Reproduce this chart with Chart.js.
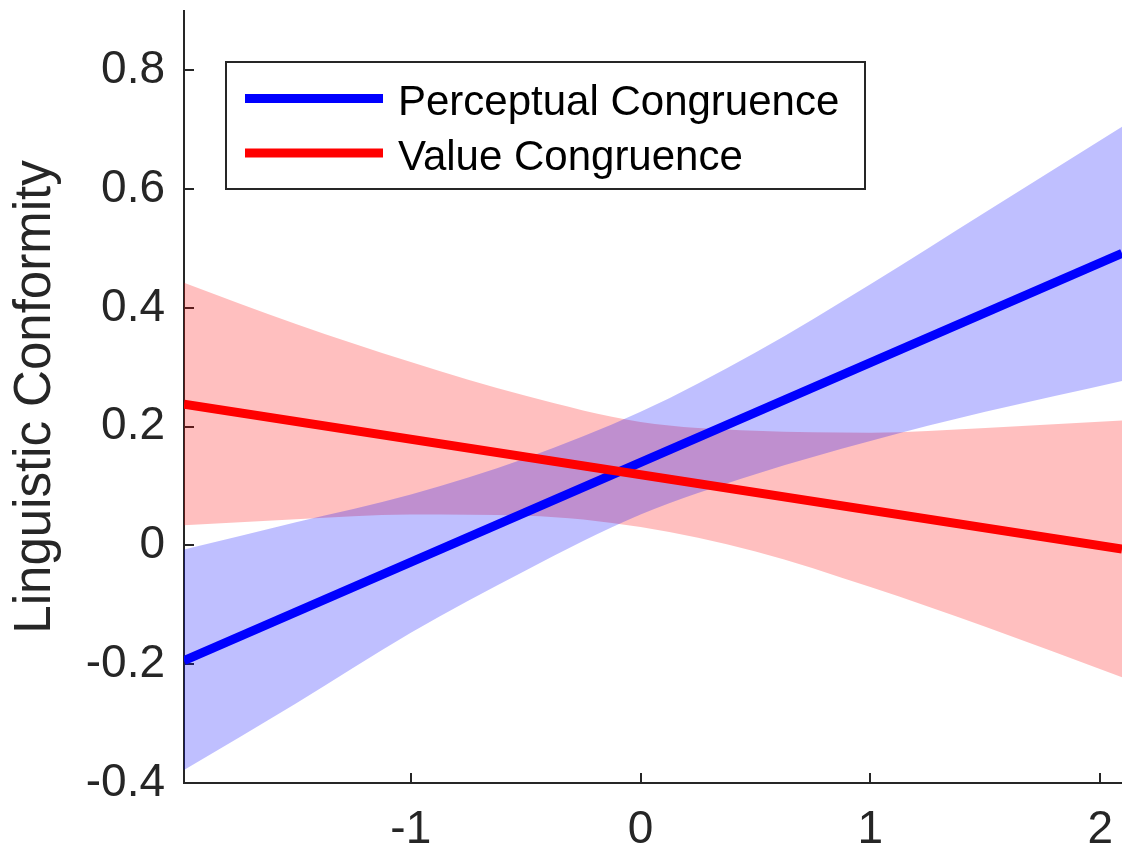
<!DOCTYPE html>
<html>
<head>
<meta charset="utf-8">
<script src="https://cdn.jsdelivr.net/npm/chart.js@4.4.1/dist/chart.umd.min.js"></script>
<style>
html,body{margin:0;padding:0;background:#ffffff;}
#wrap{width:1122px;height:854px;position:relative;}
canvas{display:block;}
</style>
</head>
<body>
<div id="wrap"><canvas id="c" width="1122" height="854"></canvas></div>
<script>
// ---- data ----
const bandX = [-1.987, -1.5, -1.0, -0.5, 0, 0.5, 1.0, 1.5, 2.095];
const perceptualUpper = [-0.007, 0.039, 0.086, 0.147, 0.225, 0.325, 0.440, 0.561, 0.705];
const perceptualLower = [-0.378, -0.266, -0.147, -0.042, 0.052, 0.120, 0.176, 0.225, 0.277];
const valueUpper = [0.4425, 0.373, 0.309, 0.252, 0.208, 0.193, 0.190, 0.198, 0.2105];
const valueLower = [0.034, 0.044, 0.052, 0.050, 0.031, -0.010, -0.070, -0.137, -0.222];
const fitX = [-1.987, 2.095];
const perceptualFit = [-0.194, 0.492];
const valueFit = [0.238, -0.006];
const seriesNames = ['Perceptual Congruence', 'Value Congruence'];
const xTicks = [-1, 0, 1, 2];
const xTickLabels = ['-1', '0', '1', '2'];
const yTicks = [-0.4, -0.2, 0, 0.2, 0.4, 0.6, 0.8];
const yTickLabels = ['-0.4', '-0.2', '0', '0.2', '0.4', '0.6', '0.8'];
const xMin = -1.987, xMax = 2.095;
const yMin = -0.4, yMax = 0.9;
const yTitle = 'Linguistic Conformity';

// ---- styling ----
const FONT = "'Liberation Sans', Arial, Helvetica, sans-serif";
const AXIS = '#262626';
const BLUE = '#0000ff', RED = '#ff0000';
const BLUE_BAND = 'rgba(0,0,255,0.25)', RED_BAND = 'rgba(255,0,0,0.25)';

const pts = (xs, ys) => xs.map((x, i) => ({x: x, y: ys[i]}));

const bandStyle = {
  pointRadius: 0, pointHoverRadius: 0, borderWidth: 0,
  borderColor: 'rgba(0,0,0,0)', cubicInterpolationMode: 'monotone'
};

const datasets = [
  {legendLabel: seriesNames[1], data: pts(fitX, valueFit), borderColor: RED, borderWidth: 9,
   pointRadius: 0, fill: false, clip: 0, borderCapStyle: 'butt'},
  {legendLabel: seriesNames[0], data: pts(fitX, perceptualFit), borderColor: BLUE, borderWidth: 9,
   pointRadius: 0, fill: false, clip: 0, borderCapStyle: 'butt'},
  Object.assign({data: pts(bandX, perceptualUpper), fill: '+1', backgroundColor: BLUE_BAND}, bandStyle),
  Object.assign({data: pts(bandX, perceptualLower), fill: false}, bandStyle),
  Object.assign({data: pts(bandX, valueUpper), fill: '+1', backgroundColor: RED_BAND}, bandStyle),
  Object.assign({data: pts(bandX, valueLower), fill: false}, bandStyle)
];

const boxLegend = {
  id: 'boxLegend',
  afterDraw(chart, args, o) {
    const ctx = chart.ctx;
    const items = seriesNames.map(n => chart.data.datasets.find(d => d.legendLabel === n));
    ctx.save();
    ctx.fillStyle = '#ffffff';
    ctx.fillRect(o.left, o.top, o.right - o.left, o.bottom - o.top);
    ctx.lineWidth = o.borderWidth;
    ctx.strokeStyle = o.borderColor;
    ctx.strokeRect(o.left, o.top, o.right - o.left, o.bottom - o.top);
    ctx.font = o.fontSize + 'px ' + FONT;
    ctx.textAlign = 'left';
    ctx.textBaseline = 'alphabetic';
    items.forEach((d, i) => {
      const yMid = o.firstRowY + i * o.rowGap;
      ctx.beginPath();
      ctx.lineCap = 'butt';
      ctx.strokeStyle = d.borderColor;
      ctx.lineWidth = d.borderWidth;
      ctx.moveTo(o.swatchX0, yMid);
      ctx.lineTo(o.swatchX1, yMid);
      ctx.stroke();
      ctx.fillStyle = o.textColor;
      ctx.fillText(d.legendLabel, o.textX, yMid + o.baselineOffset);
    });
    ctx.restore();
  }
};

Chart.defaults.font.family = FONT;

new Chart(document.getElementById('c'), {
  type: 'line',
  data: {datasets: datasets},
  plugins: [boxLegend],
  options: {
    responsive: false,
    animation: false,
    devicePixelRatio: 1,
    layout: {padding: {top: 11, right: 0, bottom: 0, left: 0}},
    plugins: {
      legend: {display: false},
      tooltip: {enabled: false},
      filler: {drawTime: 'beforeDatasetsDraw'},
      boxLegend: {
        left: 226, top: 62, right: 865, bottom: 189,
        borderWidth: 2, borderColor: AXIS,
        swatchX0: 245, swatchX1: 383, textX: 398,
        firstRowY: 98.5, rowGap: 54.5, baselineOffset: 16.5,
        fontSize: 42, textColor: '#000000'
      }
    },
    scales: {
      x: {
        type: 'linear', min: xMin, max: xMax,
        afterBuildTicks: s => { s.ticks = xTicks.map(v => ({value: v})); },
        afterFit: s => { s.height = 71; s.paddingLeft = 0; s.paddingRight = 0; s.paddingTop = 0; s.paddingBottom = 0; },
        ticks: {
          callback: (v, i) => xTickLabels[i],
          color: AXIS, font: {size: 46}, padding: 30, maxRotation: 0, autoSkip: false
        },
        grid: {display: true, drawOnChartArea: false, drawTicks: true, tickLength: -10, color: AXIS, lineWidth: 2},
        border: {display: true, color: AXIS, width: 2}
      },
      y: {
        type: 'linear', min: yMin, max: yMax,
        afterBuildTicks: s => { s.ticks = yTicks.map(v => ({value: v})); },
        afterFit: s => { s.width = 184; s.paddingTop = 0; s.paddingBottom = 0; s.paddingLeft = 0; s.paddingRight = 0; },
        ticks: {
          callback: (v, i) => yTickLabels[i],
          color: AXIS, font: {size: 46}, padding: 29, autoSkip: false
        },
        grid: {display: true, drawOnChartArea: false, drawTicks: true, tickLength: -10, color: AXIS, lineWidth: 2},
        border: {display: true, color: AXIS, width: 2},
        title: {display: true, text: yTitle, color: AXIS, font: {size: 51}, padding: {top: 5, bottom: 0}}
      }
    }
  }
});
</script>
</body>
</html>
